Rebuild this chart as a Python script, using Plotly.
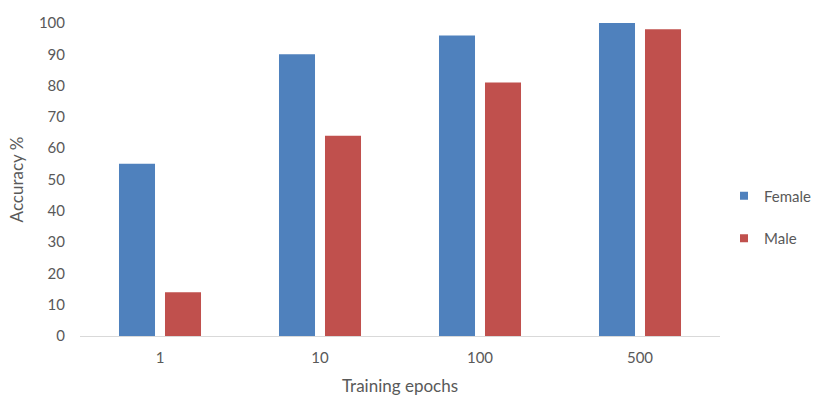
import plotly.graph_objects as go

# Accuracy (%) by number of training epochs
epochs = ["1", "10", "100", "500"]
female_acc = [55, 90, 96, 100]
male_acc = [14, 64, 81, 98]

y_ticks = [0, 10, 20, 30, 40, 50, 60, 70, 80, 90, 100]

BLUE = "#4f81bd"
RED = "#c0504d"
TEXT = "#595959"
FONT = "Lato"

fig = go.Figure()
fig.add_trace(go.Bar(x=epochs, y=female_acc, name="Female",
                     marker=dict(color=BLUE, line=dict(width=0)),
                     showlegend=False))
fig.add_trace(go.Bar(x=epochs, y=male_acc, name="Male",
                     marker=dict(color=RED, line=dict(width=0)),
                     showlegend=False))

# Small square swatches for the legend entries
for name, color, grp in [("Female", BLUE, "f"), ("Male", RED, "m")]:
    fig.add_trace(go.Scatter(x=[None], y=[None], mode="markers", name=name,
                             marker=dict(symbol="square", size=8, color=color),
                             legendgroup=grp, hoverinfo="skip"))

fig.update_layout(
    width=817, height=397,
    margin=dict(l=80, r=97, t=23, b=61, autoexpand=False),
    paper_bgcolor="white", plot_bgcolor="white",
    font=dict(family=FONT, size=15, color=TEXT),
    barmode="group", bargap=0.425, bargroupgap=0.217,
    showlegend=True,
    legend=dict(xref="container", x=724 / 817, xanchor="left",
                y=0.38, yanchor="middle",
                traceorder="grouped", tracegroupgap=20,
                font=dict(family=FONT, size=15, color=TEXT),
                itemwidth=30, bgcolor="rgba(0,0,0,0)"),
)
fig.update_xaxes(
    type="category", showgrid=False, zeroline=False, automargin=False,
    showline=True, linecolor="#d9d9d9", linewidth=1,
    ticks="", ticklabelstandoff=8,
    tickfont=dict(family=FONT, size=15, color=TEXT),
    title=dict(text="Training epochs", standoff=15,
               font=dict(family=FONT, size=17, color=TEXT)),
)
fig.update_yaxes(
    range=[0, 100], tickvals=y_ticks, showgrid=False, zeroline=False,
    automargin=False, showline=False, ticks="", ticklabelstandoff=14,
    tickfont=dict(family=FONT, size=15, color=TEXT),
    title=dict(text="Accuracy %", standoff=10,
               font=dict(family=FONT, size=17, color=TEXT)),
)

fig.write_html("out.html")
